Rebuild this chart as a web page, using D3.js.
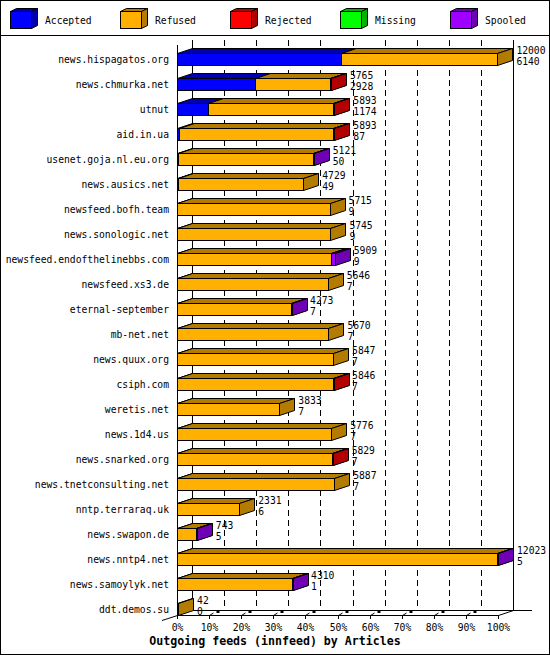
<!DOCTYPE html>
<html lang="en">
<head>
<meta charset="UTF-8">
<title>Outgoing feeds (innfeed) by Articles</title>
<script src="https://d3js.org/d3.v7.min.js"></script>
<style>
  body { margin: 0; background: #fff; }
  svg text { font-family: "DejaVu Sans Mono", monospace; font-size: 9.7px; fill: #000; }
  svg .title { font-weight: bold; font-size: 11.6px; }
</style>
</head>
<body>
<svg id="chart" width="550" height="655"></svg>
<script>
// feeds, top to bottom
const feeds = [
  "news.hispagatos.org", "news.chmurka.net", "utnut", "aid.in.ua",
  "usenet.goja.nl.eu.org", "news.ausics.net", "newsfeed.bofh.team",
  "news.sonologic.net", "newsfeed.endofthelinebbs.com", "newsfeed.xs3.de",
  "eternal-september", "mb-net.net", "news.quux.org", "csiph.com",
  "weretis.net", "news.1d4.us", "news.snarked.org", "news.tnetconsulting.net",
  "nntp.terraraq.uk", "news.swapon.de", "news.nntp4.net", "news.samoylyk.net",
  "ddt.demos.su"
];
// labels printed next to each bar
const offered  = [12000, 5765, 5893, 5893, 5121, 4729, 5715, 5745, 5909, 5646, 4273, 5670,
                  5847, 5846, 3833, 5776, 5829, 5887, 2331, 743, 12023, 4310, 42];
const accepted = [6140, 2928, 1174, 87, 50, 49, 9, 9, 9, 7, 7, 7, 7, 7, 7, 7, 7, 7, 6, 5, 5, 1, 0];
// article counts per series
const refused  = [5860, 2807, 4679, 5746, 5051, 4680, 5706, 5736, 5750, 5639, 4246, 5663,
                  5840, 5819, 3826, 5769, 5802, 5880, 2325, 708, 11998, 4289, 42];
const rejected = [0, 30, 40, 60, 0, 0, 0, 0, 0, 0, 0, 0, 0, 20, 0, 0, 20, 0, 0, 0, 0, 0, 0];
const missing  = [0, 0, 0, 0, 0, 0, 0, 0, 0, 0, 0, 0, 0, 0, 0, 0, 0, 0, 0, 0, 0, 0, 0];
const spooled  = [0, 0, 0, 0, 20, 0, 0, 0, 150, 0, 20, 0, 0, 0, 0, 0, 0, 0, 0, 30, 20, 20, 0];

const seriesNames = ["Accepted", "Refused", "Rejected", "Missing", "Spooled"];
const seriesColors = ["#0000ff", "#ffb000", "#ff0000", "#00ff00", "#a000ff"];
const tickPercents = [0, 10, 20, 30, 40, 50, 60, 70, 80, 90, 100];
const tickLabels = ["0%", "10%", "20%", "30%", "40%", "50%", "60%", "70%", "80%", "90%", "100%"];

const W = 550, H = 655;
const DX = 15, DY = 5;        // 3d depth
const barH = 12;

const svg = d3.select("#chart");

// frame
svg.append("rect").attr("x", 0.5).attr("y", 0.5).attr("width", W - 1).attr("height", H - 1)
  .attr("fill", "#fff").attr("stroke", "#000");
svg.append("line").attr("x1", 0).attr("x2", W).attr("y1", 35.5).attr("y2", 35.5).attr("stroke", "#000");

const shade = c => d3.color(c).darker(1).formatHex();

function box(g, x0, x1, y0, y1, dx, dy, color) {
  const dark = shade(color);
  g.append("polygon")
    .attr("points", [[x0, y0], [x0 + dx, y0 - dy], [x1 + dx, y0 - dy], [x1, y0]].join(" "))
    .attr("fill", dark).attr("stroke", "#000");
  g.append("polygon")
    .attr("points", [[x1, y0], [x1 + dx, y0 - dy], [x1 + dx, y1 - dy], [x1, y1]].join(" "))
    .attr("fill", dark).attr("stroke", "#000");
  g.append("rect").attr("x", x0).attr("y", y0).attr("width", x1 - x0).attr("height", y1 - y0)
    .attr("fill", color).attr("stroke", "#000");
}

// legend
const legend = svg.append("g");
seriesNames.forEach((name, i) => {
  const lx = 10.5 + i * 110;
  box(legend, lx, lx + 21, 11.5, 28.5, 6, 3, seriesColors[i]);
  legend.append("text").attr("x", lx + 34.5).attr("y", 24).text(name);
});

// scales
const x = d3.scaleLinear().domain([0, d3.max(offered)]).range([177, 498]);
const xp = d3.scaleLinear().domain([0, 100]).range([177, 498]);
const y = d3.scaleBand().domain(feeds).range([40, 615]);
const px = v => Math.round(v) + 0.5;

// back wall and grid
const grid = svg.append("g").attr("stroke", "#000").attr("shape-rendering", "crispEdges");
tickPercents.forEach(p => {
  grid.append("line")
    .attr("x1", px(xp(p) + DX)).attr("x2", px(xp(p) + DX))
    .attr("y1", 40).attr("y2", 610)
    .attr("stroke-dasharray", (p === 0 || p === 100) ? null : "6,4");
});
// floor
grid.append("line").attr("x1", px(xp(0) + DX)).attr("x2", 532).attr("y1", 610.5).attr("y2", 610.5);
grid.append("line").attr("x1", px(xp(0))).attr("x2", px(xp(100))).attr("y1", 615.5).attr("y2", 615.5);
grid.append("line").attr("x1", px(xp(0))).attr("x2", px(xp(0))).attr("y1", 45).attr("y2", 616);
svg.append("line").attr("x1", 162).attr("y1", 620.5).attr("x2", px(xp(0))).attr("y2", 615.5)
  .attr("stroke", "#000");
svg.append("line").attr("x1", px(xp(100))).attr("y1", 615.5).attr("x2", px(xp(100) + DX)).attr("y2", 610.5)
  .attr("stroke", "#000");

// floor ticks
const ticks = svg.append("g");
tickPercents.forEach((p, i) => {
  const tx = px(xp(p));
  ticks.append("line").attr("x1", tx).attr("x2", tx).attr("y1", 615.5).attr("y2", 619)
    .attr("stroke", "#000").attr("shape-rendering", "crispEdges");
  if (p > 0 && p < 100) {
    ticks.append("line").attr("x1", tx).attr("y1", 615.5).attr("x2", tx + 4).attr("y2", 613)
      .attr("stroke", "#000");
    ticks.append("rect").attr("x", tx + 7).attr("y", 611).attr("width", 3).attr("height", 2)
      .attr("fill", "#000");
  }
  ticks.append("text").attr("x", tx).attr("y", 631).attr("text-anchor", "middle").text(tickLabels[i]);
});

// bars, bottom row first so upper rows overlap correctly
const series = [accepted, refused, rejected, missing, spooled];
const bars = svg.append("g");
for (let r = feeds.length - 1; r >= 0; r--) {
  const y1 = Math.round(y(feeds[r]) + y.bandwidth()) + 0.5;
  const y0 = y1 - barH;
  let acc = 0;
  const g = bars.append("g");
  series.forEach((s, k) => {
    const v = s[r];
    if (v <= 0) return;
    const x0 = px(x(acc));
    acc += v;
    const x1 = Math.max(px(x(acc)), x0 + 1);
    box(g, x0, x1, y0, y1, DX, DY, seriesColors[k]);
  });
  const endX = x(acc) + DX;
  g.append("text").attr("x", endX + 4).attr("y", y0).text(offered[r]);
  g.append("text").attr("x", endX + 4).attr("y", y0 + 11).text(accepted[r]);
}

// category labels
svg.append("g").selectAll("text").data(feeds).join("text")
  .attr("x", 169).attr("y", d => y(d) + y.bandwidth() - barH / 2 + 4)
  .attr("text-anchor", "end").text(d => d);

// title
svg.append("text").attr("class", "title").attr("x", W / 2).attr("y", 645)
  .attr("text-anchor", "middle").text("Outgoing feeds (innfeed) by Articles");
</script>
</body>
</html>
